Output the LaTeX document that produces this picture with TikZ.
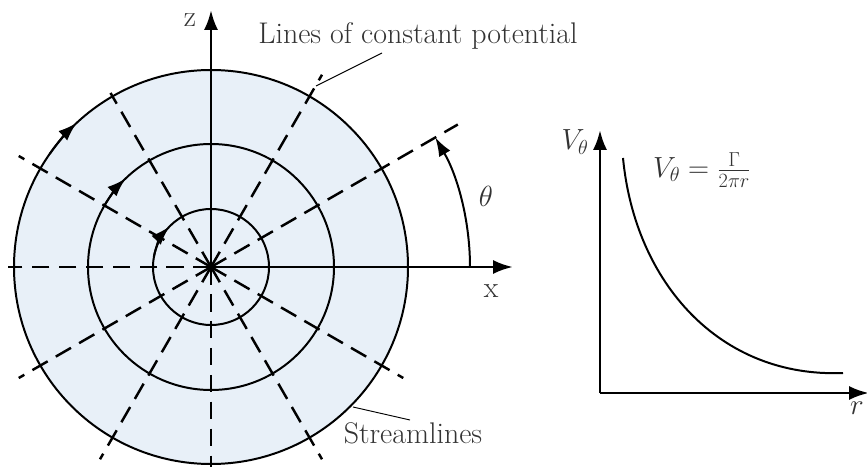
\documentclass[tikz,border=0pt]{standalone}
\usetikzlibrary{arrows.meta,calc}
\definecolor{fillblue}{HTML}{E8F0F8}
\definecolor{txt}{HTML}{333333}
\begin{document}
\begin{tikzpicture}[x=0.03cm,y=0.03cm,
  circ/.style={line width=1.7pt},
  dsh/.style={line width=2.1pt,dash pattern=on 15pt off 8pt},
  axis/.style={line width=2.5pt,-{Latex[length=17pt,width=12pt]}},
  circarrow/.style={line width=1.7pt,-{Latex[length=16pt,width=11pt]}},
  lbl/.style={text=txt,font=\fontsize{25.5}{30}\selectfont,inner sep=0pt},
  leader/.style={line width=0.8pt}]
\useasboundingbox (0,0) rectangle (867,469);
\coordinate (O) at (211,202);
% filled disc
\fill[fillblue] (O) circle (197);
% dashed radial lines
\foreach \a in {60,150,210,240,300,330}{
  \draw[dsh] (O) -- ++(\a:222);
}
\draw[dsh] (O) -- ++(120:201);
\draw[dsh] (O) -- ++(30:285);
\coordinate (L) at (8,202);
\coordinate (D) at (211,2);
\draw[dsh] (O) -- (L);
\draw[dsh] (O) -- (D);
% circles
\draw[circ] (O) circle (58);
\draw[circ] (O) circle (123);
\draw[circ] (O) circle (197);
% arrows on streamlines
\draw[circarrow] ($(O)+(145:197)$) arc (145:133:197);
\draw[circarrow] ($(O)+(150:123)$) arc (150:134:123);
\draw[circarrow] ($(O)+(170:58)$) arc (170:136:58);
% axes
\coordinate (Z) at (211,459);
\coordinate (X) at (513,202);
\draw[axis] (O) -- (Z);
\draw[axis] (O) -- (X);
% theta arc
\draw[line width=1.7pt,-{Latex[length=16pt,width=11pt]}] ($(O)+(0:259)$) arc (0:30:259);
% labels
\node[lbl] (zl) at (190,449) {z};
\node[lbl] (xl) at (491,178) {x};
\node[lbl] (th) at (486,273) {$\theta$};
\node[lbl] (lcp) at (418,433) {Lines of constant potential};
\node[lbl] (sl) at (413,36) {Streamlines};
\coordinate (lcpend) at (316,383);
\coordinate (slend) at (353,62);
\draw[leader] (382,416) -- (lcpend);
\draw[leader] (410,49) -- (slend);
% graph
\coordinate (G) at (600,76);
\coordinate (GV) at (600,339);
\coordinate (GR) at (869,76);
\draw[axis] (G) -- (GV);
\draw[axis] (G) -- (GR);
\node[lbl] (vl) at (575,327) {$V_\theta$};
\node[lbl] (rl) at (857,61) {$r$};
\node[lbl] (fl) at (702,299) {$V_\theta=\frac{\Gamma}{2\pi r}$};
\draw[line width=1.7pt] (623,311) .. controls (635,186) and (720,91) .. (843,96);
\end{tikzpicture}
\end{document}
